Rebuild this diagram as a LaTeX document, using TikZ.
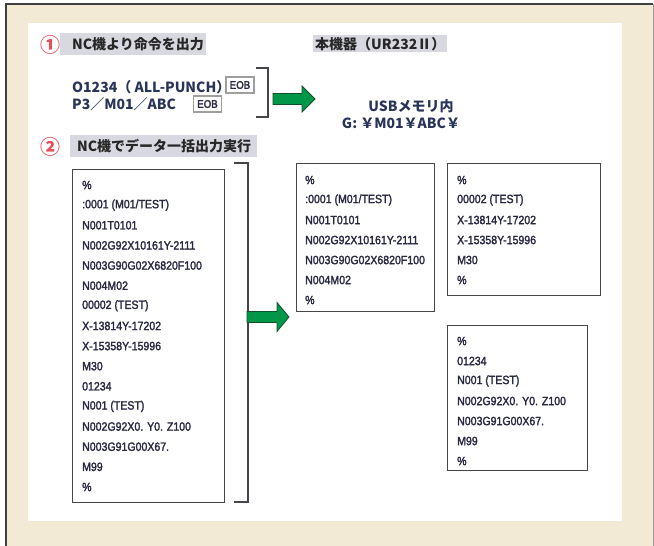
\documentclass[tikz,border=0pt]{standalone}
\usepackage{fontspec}
\setmainfont{Liberation Sans}
\newfontfamily\jpfont{Noto Sans CJK JP}
\newfontfamily\codefont[FakeStretch=0.88,FakeBold=2]{Liberation Sans}

\definecolor{panelbeige}{RGB}{242,234,212}
\definecolor{hlgray}{RGB}{216,216,224}
\definecolor{codeink}{RGB}{40,40,66}
\definecolor{navyink}{RGB}{42,52,88}
\definecolor{marknum}{RGB}{232,78,88}
\definecolor{arrowgreen}{RGB}{0,152,72}
\definecolor{arrowedge}{RGB}{20,80,48}
\definecolor{boxline}{RGB}{70,70,74}

\tikzset{
  codebox/.style={draw=boxline, line width=1.2pt, fill=white, inner sep=0pt, anchor=north west},
  codeline/.style={anchor=west, inner sep=0pt, text=codeink, font=\codefont\fontsize{12}{12}\selectfont},
  headtext/.style={anchor=west, inner sep=0pt, text=black!85, font=\jpfont\bfseries\fontsize{14}{14}\selectfont},
  cmdtext/.style={anchor=west, inner sep=0pt, text=navyink, font=\jpfont\bfseries\fontsize{14}{14}\selectfont},
  numbermark/.style={inner sep=0pt, text=marknum, font=\jpfont\bfseries\fontsize{20}{20}\selectfont},
  eobbox/.style={draw=gray!75, line width=1.1pt, fill=white, inner sep=0pt, minimum width=28pt, minimum height=16pt, text=codeink, font=\codefont\fontsize{11}{11}\selectfont},
  bracket/.style={draw=boxline, line width=1.5pt},
  greenarrow/.style={fill=arrowgreen, draw=arrowedge, line width=0.8pt, line join=miter},
}

\begin{document}
\begin{tikzpicture}[x=1pt,y=-1pt]
    \useasboundingbox (0,0) rectangle (654,546);

    % Frame and panel
    \fill[panelbeige] (6,4) rectangle (654,546);
    \draw[black!75, line width=1.6pt] (6,546) -- (6,4) -- (653,4);
    \draw[gray!80, line width=0.8pt] (653,4) -- (653,546);
    \fill[white] (28,23) rectangle (622,521);

    % Headings
    \fill[hlgray] (60,33) rectangle (206,55);
    \fill[hlgray] (70,135) rectangle (257,157);
    \fill[hlgray] (313,35) rectangle (447,52);
    \node[numbermark] (mark1) at (50,45) {①};
    \node[numbermark] (mark2) at (51,147) {②};
    \node[headtext] (head1) at (72,44) {NC機より命令を出力};
    \node[headtext] (head2) at (77,146) {NC機でデータ一括出力実行};
    \node[headtext] (head3) at (315,44) {本機器（UR232Ⅱ）};

    % Commands from the NC
    \node[cmdtext] (cmd1) at (72,87) {O1234（ ALL-PUNCH）};
    \node[cmdtext] (cmd2) at (72,104) {P3／M01／ABC};
    \node[eobbox] (eob1) at (240,85) {EOB};
    \node[eobbox] (eob2) at (207.5,104) {EOB};
    \draw[bracket] (256,68) -- (268,68) -- (268,117) -- (256,117);

    % Result on the USB memory
    \node[cmdtext, anchor=center] (usb1) at (411,106) {USBメモリ内};
    \node[cmdtext, anchor=center] (usb2) at (401,123) {G: ￥M01￥ABC￥};

    % Batch output (whole listing)
    \node[codebox, minimum width=152pt, minimum height=333pt] (listall) at (72,169) {};
    \foreach \txt [count=\i from 0] in {\%, :0001 (M01/TEST), N001T0101, N002G92X10161Y-2111, N003G90G02X6820F100, N004M02, 00002 (TEST), X-13814Y-17202, X-15358Y-15996, M30, 01234, N001 (TEST), N002G92X0. Y0. Z100, N003G91G00X67., M99, \%} {
        \node[codeline] (all-\i) at (82,185+20.13*\i) {\txt};
    }
    \draw[bracket] (234,163) -- (248,163) -- (248,502) -- (234,502);

    % Separate files
    \node[codebox, minimum width=138pt, minimum height=148pt] (fileA) at (296,163) {};
    \foreach \txt [count=\i from 0] in {\%, :0001 (M01/TEST), N001T0101, N002G92X10161Y-2111, N003G90G02X6820F100, N004M02, \%} {
        \node[codeline] (fileA-\i) at (305,180+20*\i) {\txt};
    }
    \node[codebox, minimum width=153pt, minimum height=132pt] (fileB) at (447,163) {};
    \foreach \txt [count=\i from 0] in {\%, 00002 (TEST), X-13814Y-17202, X-15358Y-15996, M30, \%} {
        \node[codeline] (fileB-\i) at (457,180+20*\i) {\txt};
    }
    \node[codebox, minimum width=140pt, minimum height=145pt] (fileC) at (447,325) {};
    \foreach \txt [count=\i from 0] in {\%, 01234, N001 (TEST), N002G92X0. Y0. Z100, N003G91G00X67., M99, \%} {
        \node[codeline] (fileC-\i) at (457,341+20*\i) {\txt};
    }

    % Green arrows
    \coordinate (arrA-tail) at (273,99);
    \coordinate (arrA-tip) at (315,99);
    \filldraw[greenarrow] (arrA-tail) ++(0,-5.5) -- ++(29,0) -- ++(0,-7.5) -- (arrA-tip) -- ++(-13,13) -- ++(0,-7.5) -- ++(-29,0) -- cycle;
    \coordinate (arrB-tail) at (247,317);
    \coordinate (arrB-tip) at (289,317);
    \filldraw[greenarrow] (arrB-tail) ++(0,-5.5) -- ++(30,0) -- ++(0,-9) -- (arrB-tip) -- ++(-12,14.5) -- ++(0,-9) -- ++(-30,0) -- cycle;
\end{tikzpicture}
\end{document}
